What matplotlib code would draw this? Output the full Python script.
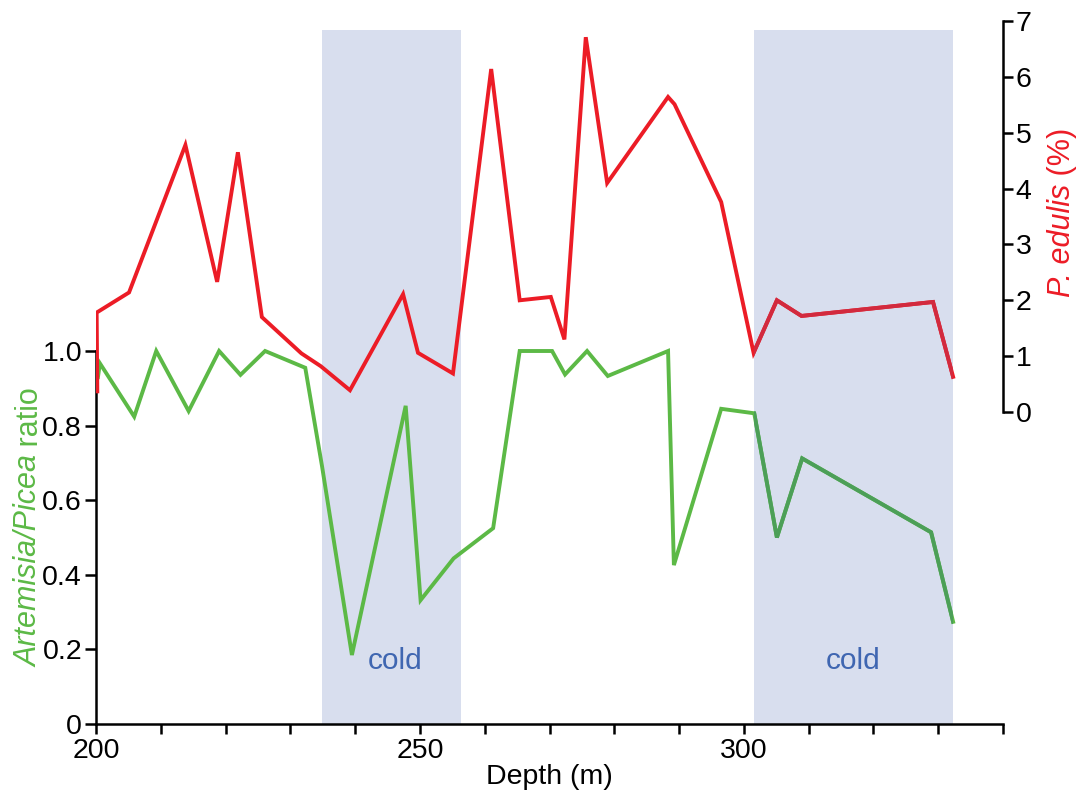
import matplotlib.pyplot as plt
from matplotlib.ticker import FixedLocator

plt.rcParams["font.family"] = ["Liberation Sans", "DejaVu Sans"]

# Artemisia/Picea ratio (left axis)
ratio_depth = [200.3, 200.6, 205.9, 209.3, 214.3, 219.0, 222.3, 226.1, 232.3,
               234.9, 239.5, 247.8, 250.1, 255.2, 261.3, 265.4, 270.4, 272.4,
               275.8, 279.0, 288.3, 289.2, 296.5, 301.6, 305.1, 309.0, 328.9,
               332.3]
ratio = [0.93, 0.967, 0.824, 1.0, 0.839, 1.0, 0.936, 1.0, 0.955,
         0.69, 0.185, 0.853, 0.332, 0.444, 0.525, 1.0, 1.0, 0.937,
         1.0, 0.933, 1.0, 0.426, 0.845, 0.833, 0.50, 0.712, 0.514,
         0.274]

# P. edulis percentage (right axis)
edulis_depth = [200.2, 200.1, 205.1, 213.8, 218.7, 221.9, 225.6, 231.7, 234.7,
                239.2, 247.4, 249.7, 255.1, 261.0, 265.4, 270.2, 272.3, 275.6,
                278.9, 288.3, 289.3, 296.5, 301.5, 305.1, 308.9, 329.2, 332.3]
edulis = [0.37, 1.78, 2.14, 4.78, 2.33, 4.65, 1.70, 1.05, 0.82,
          0.39, 2.11, 1.06, 0.69, 6.14, 2.0, 2.06, 1.30, 6.71,
          4.10, 5.64, 5.51, 3.76, 1.06, 2.0, 1.72, 1.97, 0.63]

cold_spans = [(234.9, 256.3), (301.5, 332.3)]
cold_label_x = [246.2, 316.8]

depth_ticks = list(range(200, 341, 10))
depth_labels = ["200", "", "", "", "", "250", "", "", "", "", "300", "", "", "", ""]
ratio_ticks = [0, 0.2, 0.4, 0.6, 0.8, 1.0]
ratio_labels = ["0", "0.2", "0.4", "0.6", "0.8", "1.0"]
edulis_ticks = list(range(0, 8))

GREEN = "#5cb946"
GREEN_DARK = "#4c9f58"
RED = "#ec1c26"
RED_DARK = "#d22a3e"
BAND = "#d8deee"
COLD = "#3f66b1"


def vertical_label(fig, x, y, parts, color, size):
    """Rotated label built from (text, style) pieces, centred on (x, y) in figure pixels."""
    renderer = fig.canvas.get_renderer()
    texts = [fig.text(0, 0, s, style=st, color=color, fontsize=size, rotation=90,
                      ha="center", va="bottom", transform=None)
             for s, st in parts]
    heights = [t.get_window_extent(renderer).height for t in texts]
    y0 = y - sum(heights) / 2
    for t, h in zip(texts, heights):
        t.set_position((x, y0))
        y0 += h


fig = plt.figure(figsize=(10.8, 7.97), dpi=100)
ax = fig.add_axes([96 / 1080, 73 / 797, 907 / 1080, 703 / 797])
ax2 = ax.twinx()

ax.set_xlim(200, 340)
ax.set_ylim(0, 703 / 373)
ax2.set_ylim(7 - 703 / 55.86, 7)

band_top = (703 - 9) / 703
bands = [ax.axvspan(a, b, ymin=0, ymax=band_top, color=BAND, lw=0, zorder=0)
         for a, b in cold_spans]

lw = 2.8
ax.plot(ratio_depth, ratio, color=GREEN, lw=lw, solid_joinstyle="miter", zorder=2)
ax2.plot(edulis_depth, edulis, color=RED, lw=lw, solid_joinstyle="miter", zorder=2)

# darker stroke where the lines pass through the upper cold band
g2, = ax.plot(ratio_depth, ratio, color=GREEN_DARK, lw=lw, solid_joinstyle="miter", zorder=3)
g2.set_clip_path(bands[1])
r2, = ax2.plot(edulis_depth, edulis, color=RED_DARK, lw=lw, solid_joinstyle="miter", zorder=3)
r2.set_clip_path(bands[1])

for x in cold_label_x:
    ax.text(x, 0.17, "cold", color=COLD, fontsize=21.5, ha="center", va="center")

for a in (ax, ax2):
    a.spines["top"].set_visible(False)
    for s in a.spines.values():
        s.set_linewidth(1.8)

ax.spines["right"].set_visible(False)
ax.spines["left"].set_bounds(0, 1.0)
ax.spines["bottom"].set_bounds(200, 340)
ax2.spines["left"].set_visible(False)
ax2.spines["bottom"].set_visible(False)
ax2.spines["right"].set_bounds(0, 7)

ax.xaxis.set_major_locator(FixedLocator(depth_ticks))
ax.set_xticklabels(depth_labels)
ax.set_yticks(ratio_ticks)
ax.set_yticklabels(ratio_labels)
ax2.set_yticks(edulis_ticks)

ax.tick_params(axis="x", length=7, width=1.8, labelsize=20.5, pad=3)
ax.tick_params(axis="y", length=8, width=1.8, labelsize=20.5, pad=2)
ax2.tick_params(axis="y", length=7, width=1.8, labelsize=20.5, pad=2)

ax.set_xlabel("Depth (m)", fontsize=20.5, labelpad=0)

vertical_label(fig, 30, 797 - 527,
               [("Artemisia/Picea", "italic"), (" ratio", "normal")], GREEN, 22)
vertical_label(fig, 1062, 797 - 212,
               [("P. edulis", "italic"), (" (%)", "normal")], RED, 22)

fig.savefig("out.png", dpi=100)
